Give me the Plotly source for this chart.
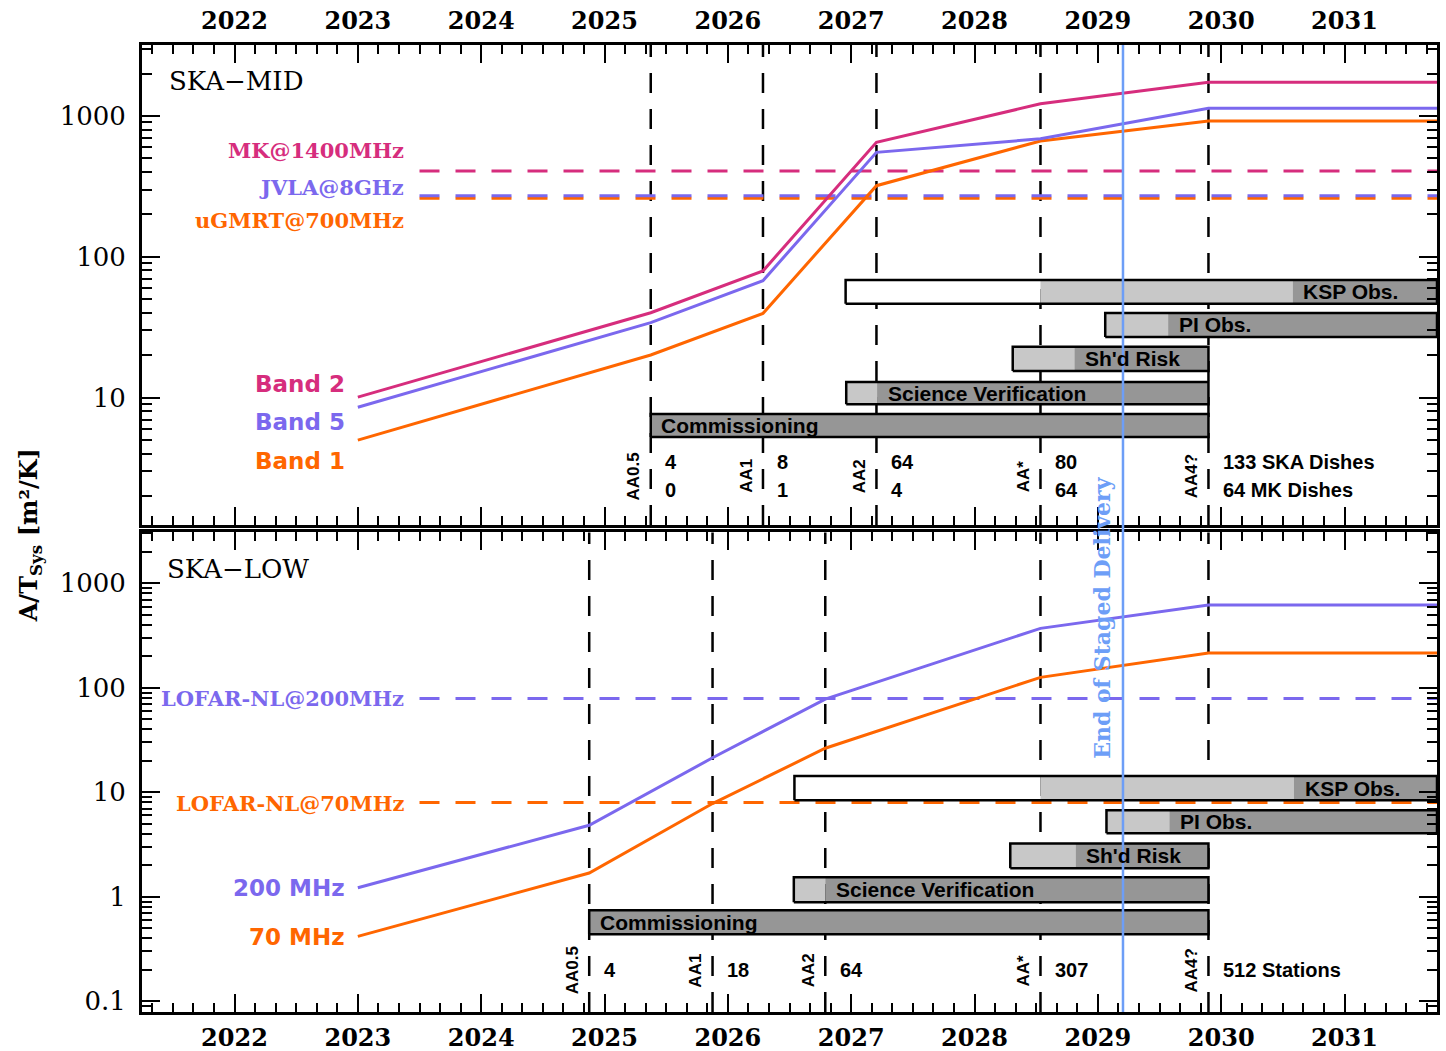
import numpy as np
import plotly.graph_objects as go

# ---------------- data ----------------
years = [2022, 2023, 2024, 2025, 2026, 2027, 2028, 2029, 2030, 2031]
year_labels = [str(y) for y in years]
x_range = [2021.25, 2031.75]

aa_names = ["AA0.5", "AA1", "AA2", "AA*", "AA4?"]

# SKA-MID
mid_aa_dates = [2025.375, 2026.285, 2027.205, 2028.535, 2029.897]
mid_ska_dishes = ["4", "8", "64", "80", "133 SKA Dishes"]
mid_mk_dishes = ["0", "1", "4", "64", "64 MK Dishes"]
mid_x = [2023.0, 2025.375, 2026.285, 2027.205, 2028.535, 2029.897, 2031.75]
mid_band2 = [10.1, 40.1, 79.5, 650, 1220, 1735, 1735]
mid_band5 = [8.55, 34.1, 67.7, 552, 689, 1135, 1135]
mid_band1 = [5.0, 20.1, 39.7, 320, 665, 921, 921]
mid_band_names = ["Band 2", "Band 5", "Band 1"]
mid_ref_names = ["MK@1400MHz", "JVLA@8GHz", "uGMRT@700MHz"]
mid_ref_values = [407, 271, 261]

# SKA-LOW
low_aa_dates = [2024.876, 2025.876, 2026.79, 2028.535, 2029.897]
low_stations = ["4", "18", "64", "307", "512 Stations"]
low_x = [2023.0, 2024.876, 2025.876, 2026.79, 2028.535, 2029.897, 2031.75]
low_200 = [1.22, 4.84, 21.4, 78, 371, 620, 620]
low_70 = [0.418, 1.69, 7.81, 26.4, 126, 215, 215]
low_freq_names = ["200 MHz", "70 MHz"]
low_ref_names = ["LOFAR-NL@200MHz", "LOFAR-NL@70MHz"]
low_ref_values = [79, 7.98]

ref_start = 2023.5
end_staged = 2029.204

# activity bars: start, start of light part, start of dark part, end, low, high
bar_names = ["KSP Obs.", "PI Obs.", "Sh'd Risk", "Science Verification", "Commissioning"]
mid_bar_start = [2026.955, 2029.06, 2028.31, 2026.96, 2025.375]
mid_bar_light = [2028.535, 2029.06, 2028.31, 2026.96, 2025.375]
mid_bar_dark = [2030.58, 2029.57, 2028.81, 2027.21, 2025.375]
mid_bar_end = [2031.75, 2031.75, 2029.897, 2029.897, 2029.897]
mid_bar_lo = [46.5, 27.0, 15.5, 9.0, 5.25]
mid_bar_hi = [68.5, 40.0, 23.0, 12.9, 7.65]

low_bar_start = [2026.54, 2029.07, 2028.29, 2026.535, 2024.876]
low_bar_light = [2028.535, 2029.07, 2028.29, 2026.535, 2024.876]
low_bar_dark = [2030.59, 2029.58, 2028.82, 2026.79, 2024.876]
low_bar_end = [2031.75, 2031.75, 2029.897, 2029.897, 2029.897]
low_bar_lo = [8.4, 4.06, 1.88, 0.886, 0.437]
low_bar_hi = [14.3, 6.74, 3.23, 1.54, 0.743]

# ---------------- styles ----------------
MAG = "#D62D7D"
PUR = "#7B68EE"
ORA = "#FF6600"
BLUE = "#6D9EF7"
LIGHT = "#C8C8C8"
DARK = "#969696"
SERIF = "DejaVu Serif"
SANS = "Liberation Sans, Arial, sans-serif"
DASH = "20px,16px"

mid_range = [0.096, 3.504]
low_range = [-1.1025, 3.487]

fig = go.Figure()


def add_line(x, y, color, xa, ya, dash=None, width=3):
    fig.add_trace(go.Scatter(x=x, y=y, mode="lines", xaxis=xa, yaxis=ya,
                             line=dict(color=color, width=width, dash=dash),
                             hoverinfo="skip", showlegend=False))


def add_bars(xa, ya, starts, lights, darks, ends, los, his):
    for s, l, d, e, lo, hi in zip(starts, lights, darks, ends, los, his):
        for a, b, col in [(s, l, "white"), (l, d, LIGHT), (d, e, DARK)]:
            if b - a <= 1e-6:
                continue
            fig.add_trace(go.Scatter(x=[a, b, b, a, a], y=[lo, lo, hi, hi, lo],
                                     fill="toself", fillcolor=col, mode="lines",
                                     line=dict(width=0), xaxis=xa, yaxis=ya,
                                     hoverinfo="skip", showlegend=False))
        fig.add_trace(go.Scatter(x=[s, e, e, s, s], y=[lo, lo, hi, hi, lo],
                                 mode="lines", line=dict(color="black", width=2.5),
                                 xaxis=xa, yaxis=ya, hoverinfo="skip", showlegend=False))


# reference dashed lines (orange under purple)
mid_ref_colors = [MAG, PUR, ORA]
for i in [0, 2, 1]:
    add_line([ref_start, x_range[1]], [mid_ref_values[i]] * 2, mid_ref_colors[i], "x", "y", dash=DASH)
low_ref_colors = [PUR, ORA]
for i in [1, 0]:
    add_line([ref_start, x_range[1]], [low_ref_values[i]] * 2, low_ref_colors[i], "x2", "y2", dash=DASH)

# sensitivity curves
add_line(mid_x, mid_band1, ORA, "x", "y")
add_line(mid_x, mid_band5, PUR, "x", "y")
add_line(mid_x, mid_band2, MAG, "x", "y")
add_line(low_x, low_70, ORA, "x2", "y2")
add_line(low_x, low_200, PUR, "x2", "y2")

# activity bars
add_bars("x", "y", mid_bar_start, mid_bar_light, mid_bar_dark, mid_bar_end, mid_bar_lo, mid_bar_hi)
add_bars("x2", "y2", low_bar_start, low_bar_light, low_bar_dark, low_bar_end, low_bar_lo, low_bar_hi)

shapes = []
for d in mid_aa_dates:
    shapes.append(dict(type="line", xref="x", yref="y domain", x0=d, x1=d, y0=0, y1=1,
                       line=dict(color="black", width=2.5, dash=DASH), layer="below"))
for d in low_aa_dates:
    shapes.append(dict(type="line", xref="x2", yref="y2 domain", x0=d, x1=d, y0=0, y1=1,
                       line=dict(color="black", width=2.5, dash=DASH), layer="below"))
shapes.append(dict(type="line", xref="x", yref="paper", x0=end_staged, x1=end_staged, y0=0, y1=1,
                   line=dict(color=BLUE, width=2.5), layer="above"))

ann = []


def text(x, y, s, xref, yref, size, color="black", family=SERIF, weight="normal",
         xanchor="center", yanchor="middle", angle=0):
    ann.append(dict(x=x, y=y, xref=xref, yref=yref, text=s, showarrow=False,
                    xanchor=xanchor, yanchor=yanchor, textangle=angle,
                    font=dict(family=family, size=size, color=color, weight=weight)))


# panel titles
text(0.019, 0.925, "SKA\u2212MID", "x domain", "y domain", 26, xanchor="left")
text(0.018, 0.924, "SKA\u2212LOW", "x2 domain", "y2 domain", 26, xanchor="left")

# reference labels
mid_ref_label_logy = [2.752, 2.489, 2.255]
for n, c, ly in zip(mid_ref_names, mid_ref_colors, mid_ref_label_logy):
    text(ref_start - 0.11, ly, n, "x", "y", 21, color=c, weight="bold", xanchor="right")
low_ref_label_logy = [1.9, 0.896]
for n, c, ly in zip(low_ref_names, low_ref_colors, low_ref_label_logy):
    text(ref_start - 0.11, ly, n, "x2", "y2", 21, color=c, weight="bold", xanchor="right")

# band labels
mid_band_label_logy = [1.097, 0.8275, 0.551]
for n, c, ly in zip(mid_band_names, [MAG, PUR, ORA], mid_band_label_logy):
    text(mid_x[0] - 0.09, ly, n, "x", "y", 23, color=c, family="DejaVu Sans", weight="bold", xanchor="right")
low_freq_label_logy = [0.081, -0.388]
for n, c, ly in zip(low_freq_names, [PUR, ORA], low_freq_label_logy):
    text(low_x[0] - 0.09, ly, n, "x2", "y2", 23, color=c, family="DejaVu Sans", weight="bold", xanchor="right")

# AA labels
for d, n, a, b in zip(mid_aa_dates, aa_names, mid_ska_dishes, mid_mk_dishes):
    text(d - 0.14, 0.444, n, "x", "y", 17, family=SANS, weight="bold", angle=-90)
    text(d + 0.1, 0.5435, a, "x", "y", 20, family=SANS, weight="bold", xanchor="left")
    text(d + 0.1, 0.345, b, "x", "y", 20, family=SANS, weight="bold", xanchor="left")
for d, n, a in zip(low_aa_dates, aa_names, low_stations):
    text(d - 0.14, -0.704, n, "x2", "y2", 17, family=SANS, weight="bold", angle=-90)
    text(d + 0.1, -0.704, a, "x2", "y2", 20, family=SANS, weight="bold", xanchor="left")

# bar labels
for n, d, lo, hi in zip(bar_names, mid_bar_dark, mid_bar_lo, mid_bar_hi):
    text(d + 0.07, np.log10(np.sqrt(lo * hi)), n, "x", "y", 21, family=SANS, weight="bold", xanchor="left")
for n, d, lo, hi in zip(bar_names, low_bar_dark, low_bar_lo, low_bar_hi):
    text(d + 0.07, np.log10(np.sqrt(lo * hi)), n, "x2", "y2", 21, family=SANS, weight="bold", xanchor="left")

# staged delivery label
text(end_staged - 0.167, 0.408, "End of Staged Delivery", "x", "paper", 22, color=BLUE,
     weight="bold", angle=-90)

# y-axis title
text(-0.0865, 0.493, "A/T<sub>Sys</sub> [m\u00b2/K]", "paper", "paper", 24, weight="bold", angle=-90)


def minor_logvals(lo_exp, hi_exp):
    return [m * 10.0 ** e for e in range(lo_exp, hi_exp) for m in range(2, 10)]


xcommon = dict(range=x_range, tickmode="array", tickvals=years, ticktext=year_labels,
               ticks="inside", ticklen=18, tickwidth=2, tickcolor="black",
               showline=True, linewidth=3, linecolor="black", mirror="allticks",
               showgrid=False, zeroline=False, automargin=False,
               tickfont=dict(family=SERIF, size=24, color="black", weight="bold"),
               minor=dict(ticks="inside", ticklen=9, tickwidth=2, tickcolor="black",
                          dtick=1 / 6, tick0=2022, showgrid=False))
ycommon = dict(type="log", ticks="inside", ticklen=18, tickwidth=2, tickcolor="black",
               showline=True, linewidth=3, linecolor="black", mirror="allticks",
               showgrid=False, zeroline=False, automargin=False, ticklabelstandoff=8,
               tickfont=dict(family=SERIF, size=26, color="black"))

mid_ticks = [10, 100, 1000]
low_ticks = [0.1, 1, 10, 100, 1000]

fig.update_layout(
    width=1446, height=1051, autosize=False,
    margin=dict(l=142, r=9, t=45, b=39),
    paper_bgcolor="white", plot_bgcolor="white",
    showlegend=False,
    xaxis=dict(**xcommon, anchor="y", side="top", ticklabelstandoff=3),
    xaxis2=dict(**xcommon, anchor="y2", side="bottom", matches="x", ticklabelstandoff=2),
    yaxis=dict(**ycommon, domain=[0.5036, 1], anchor="x", range=mid_range,
               tickvals=mid_ticks, ticktext=[str(v) for v in mid_ticks],
               minor=dict(ticks="inside", ticklen=10, tickwidth=2, tickcolor="black",
                          tickmode="array", tickvals=minor_logvals(0, 4), showgrid=False)),
    yaxis2=dict(**ycommon, domain=[0, 0.4959], anchor="x2", range=low_range,
                tickvals=low_ticks, ticktext=["0.1", "1", "10", "100", "1000"],
                minor=dict(ticks="inside", ticklen=10, tickwidth=2, tickcolor="black",
                           tickmode="array", tickvals=minor_logvals(-2, 4), showgrid=False)),
    shapes=shapes,
    annotations=ann,
)

# remove the browser's default 8px body margin so the figure fills the window exactly
fig.write_html("out.html",
               config={"displayModeBar": False},
               post_script="document.body.style.margin='0px';document.body.style.overflow='hidden';")
